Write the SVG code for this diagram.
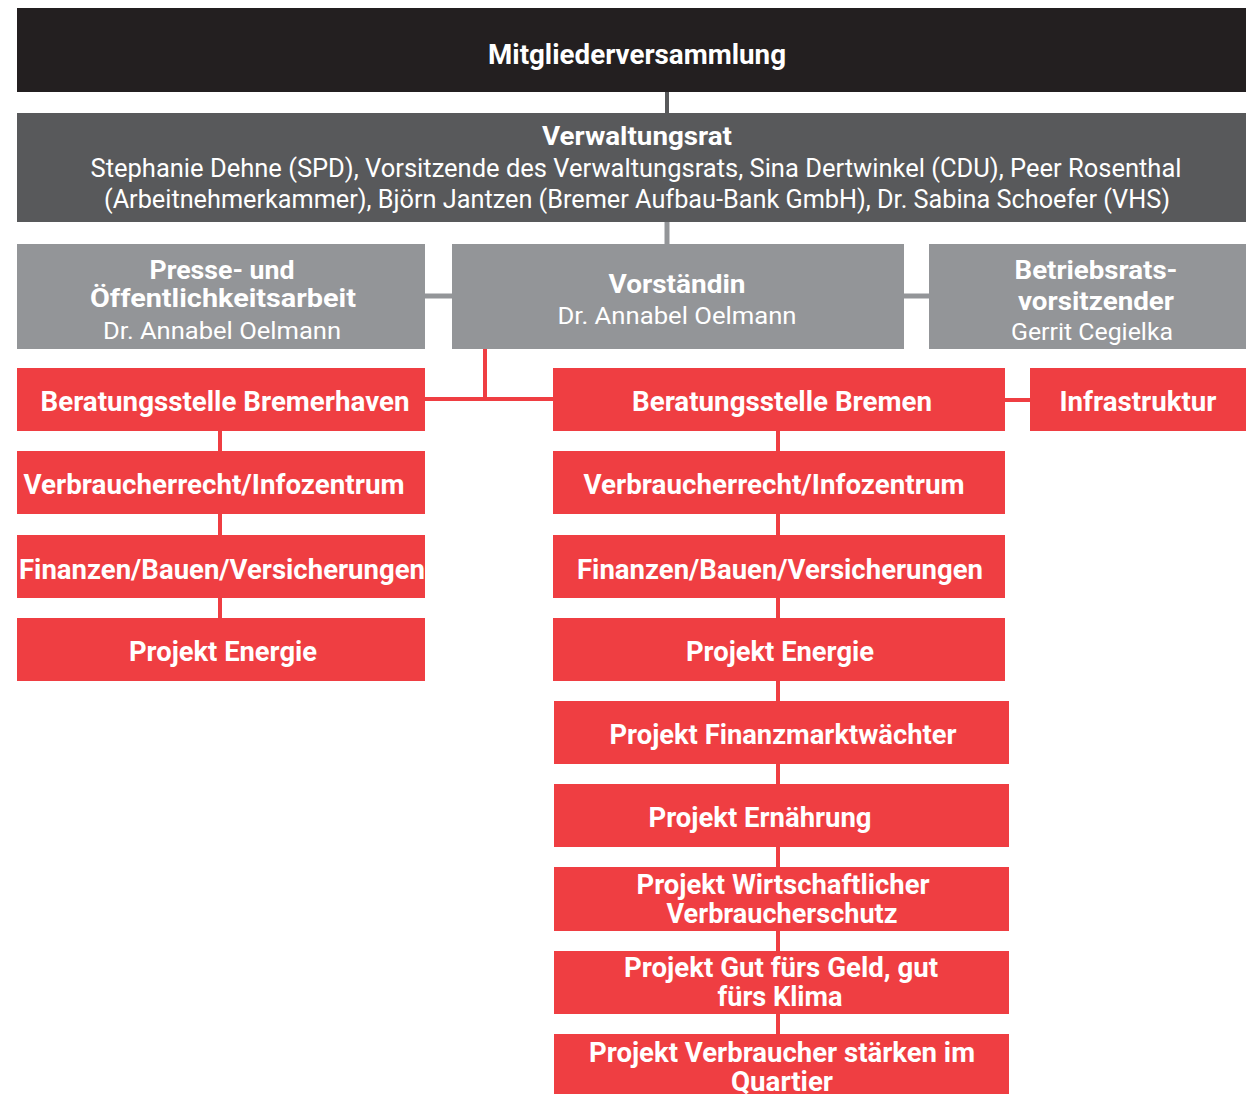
<svg xmlns="http://www.w3.org/2000/svg" width="1246" height="1094" viewBox="0 0 1246 1094">
<style>
text{font-family:Roboto,"Open Sans","Liberation Sans",sans-serif;fill:#ffffff;text-anchor:middle}
.b{font-weight:700}
.r{font-weight:400}
.blk{fill:#231f20}
.dg{fill:#58595b}
.lg{fill:#939598}
.red{fill:#ef3e42}
.cg{stroke:#58595b;stroke-width:4;fill:none}
.cl{stroke:#939598;stroke-width:5;fill:none}
.cr{stroke:#ef3e42;stroke-width:4;fill:none}
</style>
<rect width="1246" height="1094" fill="#ffffff"/>
<g id="connectors">
<line class="cg" x1="667" y1="92" x2="667" y2="113"/>
<line class="cl" x1="667" y1="222" x2="667" y2="244"/>
<line class="cl" x1="425" y1="296" x2="452" y2="296"/>
<line class="cl" x1="904" y1="296" x2="929" y2="296"/>
<polyline class="cr" points="485,349 485,399"/>
<line class="cr" x1="425" y1="399" x2="553" y2="399"/>
<line class="cr" x1="1005" y1="400" x2="1030" y2="400"/>
<line class="cr" x1="220" y1="431" x2="220" y2="451"/>
<line class="cr" x1="220" y1="514" x2="220" y2="535"/>
<line class="cr" x1="220" y1="598" x2="220" y2="618"/>
<line class="cr" x1="778" y1="431" x2="778" y2="451"/>
<line class="cr" x1="778" y1="514" x2="778" y2="535"/>
<line class="cr" x1="778" y1="598" x2="778" y2="618"/>
<line class="cr" x1="778" y1="681" x2="778" y2="701"/>
<line class="cr" x1="778" y1="764" x2="778" y2="784"/>
<line class="cr" x1="778" y1="847" x2="778" y2="867"/>
<line class="cr" x1="778" y1="931" x2="778" y2="951"/>
<line class="cr" x1="778" y1="1014" x2="778" y2="1034"/>
</g>
<g id="mitgliederversammlung">
<rect class="blk" x="17" y="8" width="1229" height="84"/>
<text class="b" x="637" y="64" font-size="27" textLength="298" lengthAdjust="spacingAndGlyphs">Mitgliederversammlung</text>
</g>
<g id="verwaltungsrat">
<rect class="dg" x="17" y="113" width="1229" height="109"/>
<text class="b" x="637" y="145" font-size="26" textLength="190" lengthAdjust="spacingAndGlyphs">Verwaltungsrat</text>
<text class="r" x="636" y="177" font-size="25" textLength="1091" lengthAdjust="spacingAndGlyphs">Stephanie Dehne (SPD), Vorsitzende des Verwaltungsrats, Sina Dertwinkel (CDU), Peer Rosenthal</text>
<text class="r" x="637" y="208" font-size="25" textLength="1066" lengthAdjust="spacingAndGlyphs">(Arbeitnehmerkammer), Björn Jantzen (Bremer Aufbau-Bank GmbH), Dr. Sabina Schoefer (VHS)</text>
</g>
<g id="presse">
<rect class="lg" x="17" y="244" width="408" height="105"/>
<text class="b" x="222" y="279" font-size="26" textLength="145" lengthAdjust="spacingAndGlyphs">Presse- und</text>
<text class="b" x="223" y="307" font-size="26" textLength="266" lengthAdjust="spacingAndGlyphs">Öffentlichkeitsarbeit</text>
<text class="r" x="222" y="339" font-size="24" textLength="238" lengthAdjust="spacingAndGlyphs">Dr. Annabel Oelmann</text>
</g>
<g id="vorstaendin">
<rect class="lg" x="452" y="244" width="452" height="105"/>
<text class="b" x="677" y="293" font-size="26" textLength="137" lengthAdjust="spacingAndGlyphs">Vorständin</text>
<text class="r" x="677" y="324" font-size="24" textLength="239" lengthAdjust="spacingAndGlyphs">Dr. Annabel Oelmann</text>
</g>
<g id="betriebsrat">
<rect class="lg" x="929" y="244" width="317" height="105"/>
<text class="b" x="1096" y="279" font-size="26" textLength="163" lengthAdjust="spacingAndGlyphs">Betriebsrats-</text>
<text class="b" x="1096" y="310" font-size="26" textLength="156" lengthAdjust="spacingAndGlyphs">vorsitzender</text>
<text class="r" x="1092" y="340" font-size="24" textLength="162" lengthAdjust="spacingAndGlyphs">Gerrit Cegielka</text>
</g>
<g id="bremerhaven">
<rect class="red" x="17" y="368" width="408" height="63"/>
<text class="b" x="225" y="411" font-size="27" textLength="369" lengthAdjust="spacingAndGlyphs">Beratungsstelle Bremerhaven</text>
</g>
<g id="bremen">
<rect class="red" x="553" y="368" width="452" height="63"/>
<text class="b" x="782" y="411" font-size="27" textLength="300" lengthAdjust="spacingAndGlyphs">Beratungsstelle Bremen</text>
</g>
<g id="infrastruktur">
<rect class="red" x="1030" y="368" width="216" height="63"/>
<text class="b" x="1138" y="411" font-size="27" textLength="157" lengthAdjust="spacingAndGlyphs">Infrastruktur</text>
</g>
<g id="bhv-verbraucherrecht">
<rect class="red" x="17" y="451" width="408" height="63"/>
<text class="b" x="214" y="494" font-size="27" textLength="381" lengthAdjust="spacingAndGlyphs">Verbraucherrecht/Infozentrum</text>
</g>
<g id="bhv-finanzen">
<rect class="red" x="17" y="535" width="408" height="63"/>
<text class="b" x="222" y="579" font-size="27" textLength="406" lengthAdjust="spacingAndGlyphs">Finanzen/Bauen/Versicherungen</text>
</g>
<g id="bhv-energie">
<rect class="red" x="17" y="618" width="408" height="63"/>
<text class="b" x="223" y="661" font-size="27" textLength="188" lengthAdjust="spacingAndGlyphs">Projekt Energie</text>
</g>
<g id="hb-verbraucherrecht">
<rect class="red" x="553" y="451" width="452" height="63"/>
<text class="b" x="774" y="494" font-size="27" textLength="381" lengthAdjust="spacingAndGlyphs">Verbraucherrecht/Infozentrum</text>
</g>
<g id="hb-finanzen">
<rect class="red" x="553" y="535" width="452" height="63"/>
<text class="b" x="780" y="579" font-size="27" textLength="406" lengthAdjust="spacingAndGlyphs">Finanzen/Bauen/Versicherungen</text>
</g>
<g id="hb-energie">
<rect class="red" x="553" y="618" width="452" height="63"/>
<text class="b" x="780" y="661" font-size="27" textLength="188" lengthAdjust="spacingAndGlyphs">Projekt Energie</text>
</g>
<g id="finanzmarktwaechter">
<rect class="red" x="554" y="701" width="455" height="63"/>
<text class="b" x="783" y="744" font-size="27" textLength="347" lengthAdjust="spacingAndGlyphs">Projekt Finanzmarktwächter</text>
</g>
<g id="ernaehrung">
<rect class="red" x="554" y="784" width="455" height="63"/>
<text class="b" x="760" y="827" font-size="27" textLength="223" lengthAdjust="spacingAndGlyphs">Projekt Ernährung</text>
</g>
<g id="wirtschaftlicher-verbraucherschutz">
<rect class="red" x="554" y="867" width="455" height="64"/>
<text class="b" x="783" y="894" font-size="27" textLength="293" lengthAdjust="spacingAndGlyphs">Projekt Wirtschaftlicher</text>
<text class="b" x="782" y="923" font-size="27" textLength="231" lengthAdjust="spacingAndGlyphs">Verbraucherschutz</text>
</g>
<g id="gut-fuers-geld">
<rect class="red" x="554" y="951" width="455" height="63"/>
<text class="b" x="781" y="977" font-size="27" textLength="314" lengthAdjust="spacingAndGlyphs">Projekt Gut fürs Geld, gut</text>
<text class="b" x="780" y="1006" font-size="27" textLength="125" lengthAdjust="spacingAndGlyphs">fürs Klima</text>
</g>
<g id="verbraucher-staerken">
<rect class="red" x="554" y="1034" width="455" height="60"/>
<text class="b" x="782" y="1062" font-size="27" textLength="386" lengthAdjust="spacingAndGlyphs">Projekt Verbraucher stärken im</text>
<text class="b" x="782" y="1091" font-size="27" textLength="102" lengthAdjust="spacingAndGlyphs">Quartier</text>
</g>
</svg>
